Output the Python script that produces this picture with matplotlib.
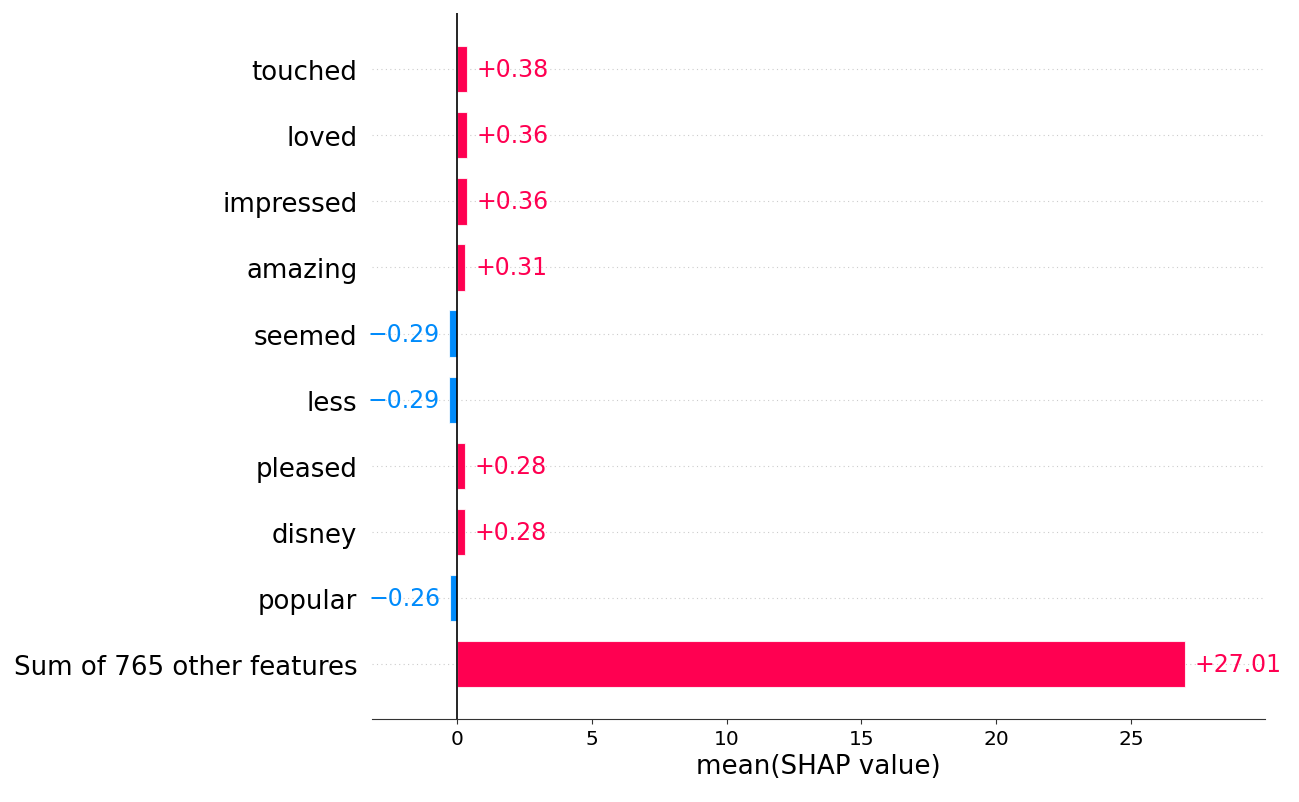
import matplotlib.pyplot as plt
from matplotlib import transforms

features = ["touched", "loved", "impressed", "amazing", "seemed", "less",
            "pleased", "disney", "popular", "Sum of 765 other features"]
values = [0.38, 0.36, 0.36, 0.31, -0.29, -0.29, 0.28, 0.28, -0.26, 27.01]

red = "#ff0051"
blue = "#008bfb"

fig = plt.figure(figsize=(12.99, 8.03), dpi=100)
ax = fig.add_axes([0.2864, 0.1034, 0.6874, 0.8792])

y_pos = list(range(len(features), 0, -1))
colors = [red if v > 0 else blue for v in values]

for y in y_pos:
    ax.axhline(y, color="#cccccc", lw=0.8, dashes=(1, 3), zorder=-1)

ax.barh(y_pos, values, height=0.7, color=colors, align="center",
        edgecolor=(1, 1, 1, 0.8), linewidth=0.8)
ax.axvline(0, color="black", lw=1.2, zorder=3)

for y, v in zip(y_pos, values):
    if v > 0:
        off = transforms.offset_copy(ax.transData, fig=fig, x=7, y=0, units="points")
        ax.text(v, y, f"+{v:.2f}", transform=off, ha="left", va="center",
                color=red, fontsize=17)
    else:
        off = transforms.offset_copy(ax.transData, fig=fig, x=-6.5, y=0, units="points")
        ax.text(v, y, f"\u2212{abs(v):.2f}", transform=off, ha="right", va="center",
                color=blue, fontsize=17)

ax.set_yticks(y_pos)
ax.set_yticklabels(features, fontsize=18.7)
ax.tick_params(axis="y", length=0, pad=10.5)
ax.tick_params(axis="x", labelsize=14.5, color="#333333")
ax.set_xlim(-3.15, 29.97)
ax.set_ylim(0.17, 10.85)
ax.set_xticks([0, 5, 10, 15, 20, 25])

for s in ["top", "right", "left"]:
    ax.spines[s].set_visible(False)
ax.spines["bottom"].set_color("#333333")

ax.set_xlabel("mean(SHAP value)", fontsize=18.8)

fig.savefig("out.png", dpi=100)
